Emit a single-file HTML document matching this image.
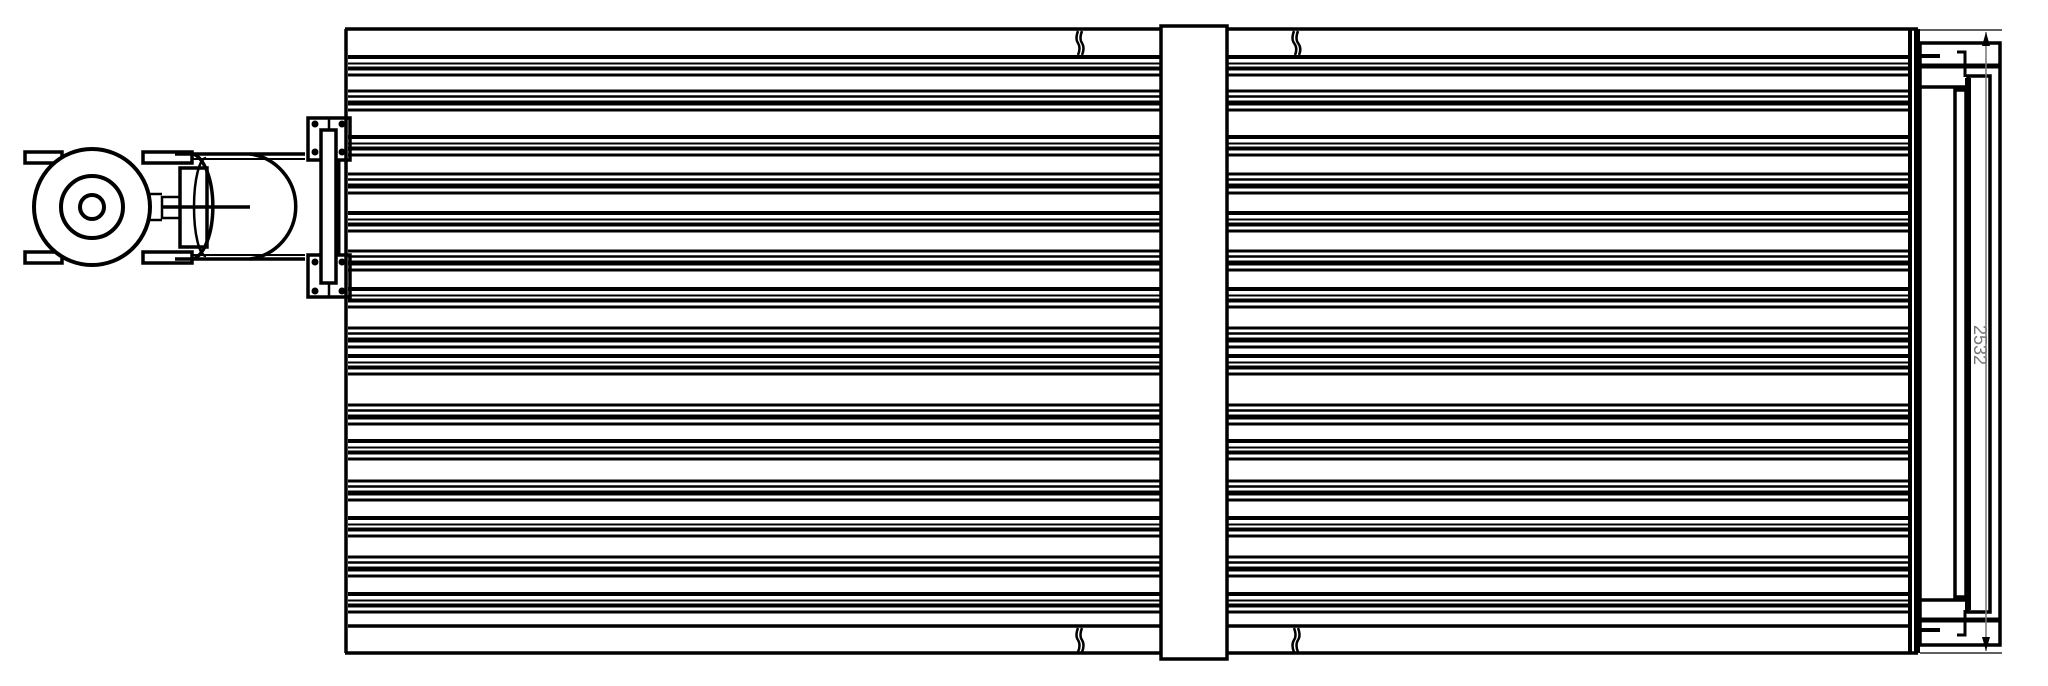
<!DOCTYPE html>
<html><head><meta charset="utf-8"><style>
html,body{margin:0;padding:0;background:#fff;}
svg{display:block;}
</style></head><body>
<svg width="2048" height="686" viewBox="0 0 2048 686" xmlns="http://www.w3.org/2000/svg">
<defs>
<g id="grp" stroke="#000">
  <line x1="348" y1="0" x2="1910" y2="0" stroke-width="4"/>
  <line x1="348" y1="6.5" x2="1910" y2="6.5" stroke-width="2"/>
  <line x1="348" y1="11.5" x2="1910" y2="11.5" stroke-width="4"/>
  <line x1="348" y1="18" x2="1910" y2="18" stroke-width="3"/>
</g>
<g id="grp2" stroke="#000">
  <line x1="348" y1="0" x2="1910" y2="0" stroke-width="3"/>
  <line x1="348" y1="5.5" x2="1910" y2="5.5" stroke-width="2.5"/>
  <line x1="348" y1="12" x2="1910" y2="12" stroke-width="5"/>
  <line x1="348" y1="19" x2="1910" y2="19" stroke-width="3"/>
</g>
</defs>
<rect width="2048" height="686" fill="#fff"/>
<g fill="none" stroke="#000">
<line x1="345" y1="29" x2="1918" y2="29" stroke-width="3.5"/>
<line x1="345" y1="653" x2="1918" y2="653" stroke-width="3.5"/>
<line x1="346" y1="29" x2="346" y2="653" stroke-width="3.5"/>
</g>
<use href="#grp" y="57"/><use href="#grp2" y="91"/><use href="#grp" y="137"/>
<use href="#grp2" y="174"/><use href="#grp" y="213"/><use href="#grp2" y="251"/>
<use href="#grp" y="289"/><use href="#grp2" y="328"/><use href="#grp" y="356"/>
<use href="#grp2" y="405"/><use href="#grp" y="441"/><use href="#grp2" y="481"/>
<use href="#grp" y="518"/><use href="#grp2" y="557"/><use href="#grp" y="594"/>
<line x1="348" y1="626" x2="1910" y2="626" stroke="#000" stroke-width="3.5"/>
<line x1="1910" y1="29" x2="1910" y2="653" stroke="#000" stroke-width="4"/>
<rect x="1914" y="29" width="6" height="624" fill="#000"/>
<g fill="none" stroke="#000" stroke-width="2.5">
<path d="M1078 31 q-3 8 0 12 q3 5 0 12"/><path d="M1082 31 q-3 8 0 12 q3 5 0 12"/>
<path d="M1294 31 q-3 8 0 12 q4 5 1 12"/><path d="M1298 31 q-3 8 0 12 q4 5 1 12"/>
<path d="M1078 628 q-3 8 0 12 q3 5 0 12"/><path d="M1082 628 q-3 8 0 12 q3 5 0 12"/>
<path d="M1294 628 q3 8 0 12 q-3 5 0 12"/><path d="M1298 628 q3 8 0 12 q-3 5 0 12"/>
</g>
<rect x="1161" y="26" width="66" height="633" fill="#fff" stroke="#000" stroke-width="3.5"/>
<g fill="none" stroke="#000">
<line x1="1920" y1="30" x2="2002" y2="30" stroke-width="1.2"/>
<line x1="1920" y1="653" x2="2002" y2="653" stroke-width="1.2"/>
<rect x="1920" y="43" width="80" height="602" stroke-width="3.5"/>
<line x1="1920" y1="66" x2="2000" y2="66" stroke-width="5"/>
<line x1="1920" y1="620" x2="2000" y2="620" stroke-width="5"/>
<line x1="1920" y1="56" x2="1940" y2="56" stroke-width="4"/>
<line x1="1920" y1="630" x2="1940" y2="630" stroke-width="4"/>
<line x1="1920" y1="87" x2="1966" y2="87" stroke-width="3.5"/>
<line x1="1920" y1="600" x2="1966" y2="600" stroke-width="3.5"/>
<path d="M1957 52 h8 v25" stroke-width="3"/>
<path d="M1957 635 h8 v-25" stroke-width="3"/>
<rect x="1955" y="90" width="11" height="507" stroke-width="3.5"/>
<rect x="1968" y="76" width="22" height="536" stroke-width="3.5"/>
<line x1="1968" y1="78" x2="1968" y2="610" stroke-width="6"/>
<line x1="1986" y1="32" x2="1986" y2="651" stroke="#777" stroke-width="1.5"/>
</g>
<path d="M1986 32 l-4 14 h8 z M1986 651 l-4 -14 h8 z" fill="#000"/>
<text x="1974" y="345" transform="rotate(90 1974 345)" text-anchor="middle" font-family="Liberation Sans, sans-serif" font-size="18" fill="#777">2532</text>
<g fill="none" stroke="#000" stroke-width="3.5">
<rect x="308" y="118" width="42" height="42"/>
<rect x="308" y="255" width="42" height="42"/>
<rect x="321" y="130" width="15" height="153" fill="#fff"/>
<rect x="25" y="152" width="37" height="11"/>
<rect x="25" y="252" width="37" height="11"/>
<rect x="143" y="152" width="49" height="11"/>
<rect x="143" y="252" width="49" height="11"/>
<line x1="175" y1="154" x2="305" y2="154"/>
<line x1="175" y1="259" x2="305" y2="259"/>
<line x1="192" y1="159" x2="305" y2="159" stroke-width="2"/>
<line x1="192" y1="255" x2="305" y2="255" stroke-width="2"/>
<path d="M250 154 A53 53 0 0 1 250 259"/>
<path d="M193 154 A23 53 0 0 1 193 259"/>
<path d="M206 158 A12 49 0 0 0 206 256" stroke-width="2.5"/>
<rect x="180" y="168" width="27" height="79"/>
<line x1="163" y1="207" x2="250" y2="207"/>
<rect x="162" y="197" width="18" height="21" stroke-width="2.5"/>
<line x1="148" y1="194" x2="162" y2="194" stroke-width="2.5"/>
<line x1="148" y1="220" x2="162" y2="220" stroke-width="2.5"/>
<line x1="338" y1="160" x2="338" y2="255" stroke-width="5"/>
<circle cx="92" cy="207" r="58" fill="#fff" stroke-width="4"/>
<circle cx="92" cy="207" r="31" stroke-width="4"/>
<circle cx="92" cy="207" r="12" stroke-width="4"/>
</g>
<g fill="#000">
<circle cx="315" cy="124" r="3.5"/><circle cx="342" cy="124" r="3.5"/>
<circle cx="315" cy="152" r="3.5"/><circle cx="342" cy="152" r="3.5"/>
<circle cx="315" cy="262" r="3.5"/><circle cx="342" cy="262" r="3.5"/>
<circle cx="315" cy="291" r="3.5"/><circle cx="342" cy="291" r="3.5"/>
</g>
<line x1="329" y1="118" x2="329" y2="130" stroke="#000" stroke-width="2.5"/>
<line x1="329" y1="283" x2="329" y2="297" stroke="#000" stroke-width="2.5"/>
</svg>
</body></html>
